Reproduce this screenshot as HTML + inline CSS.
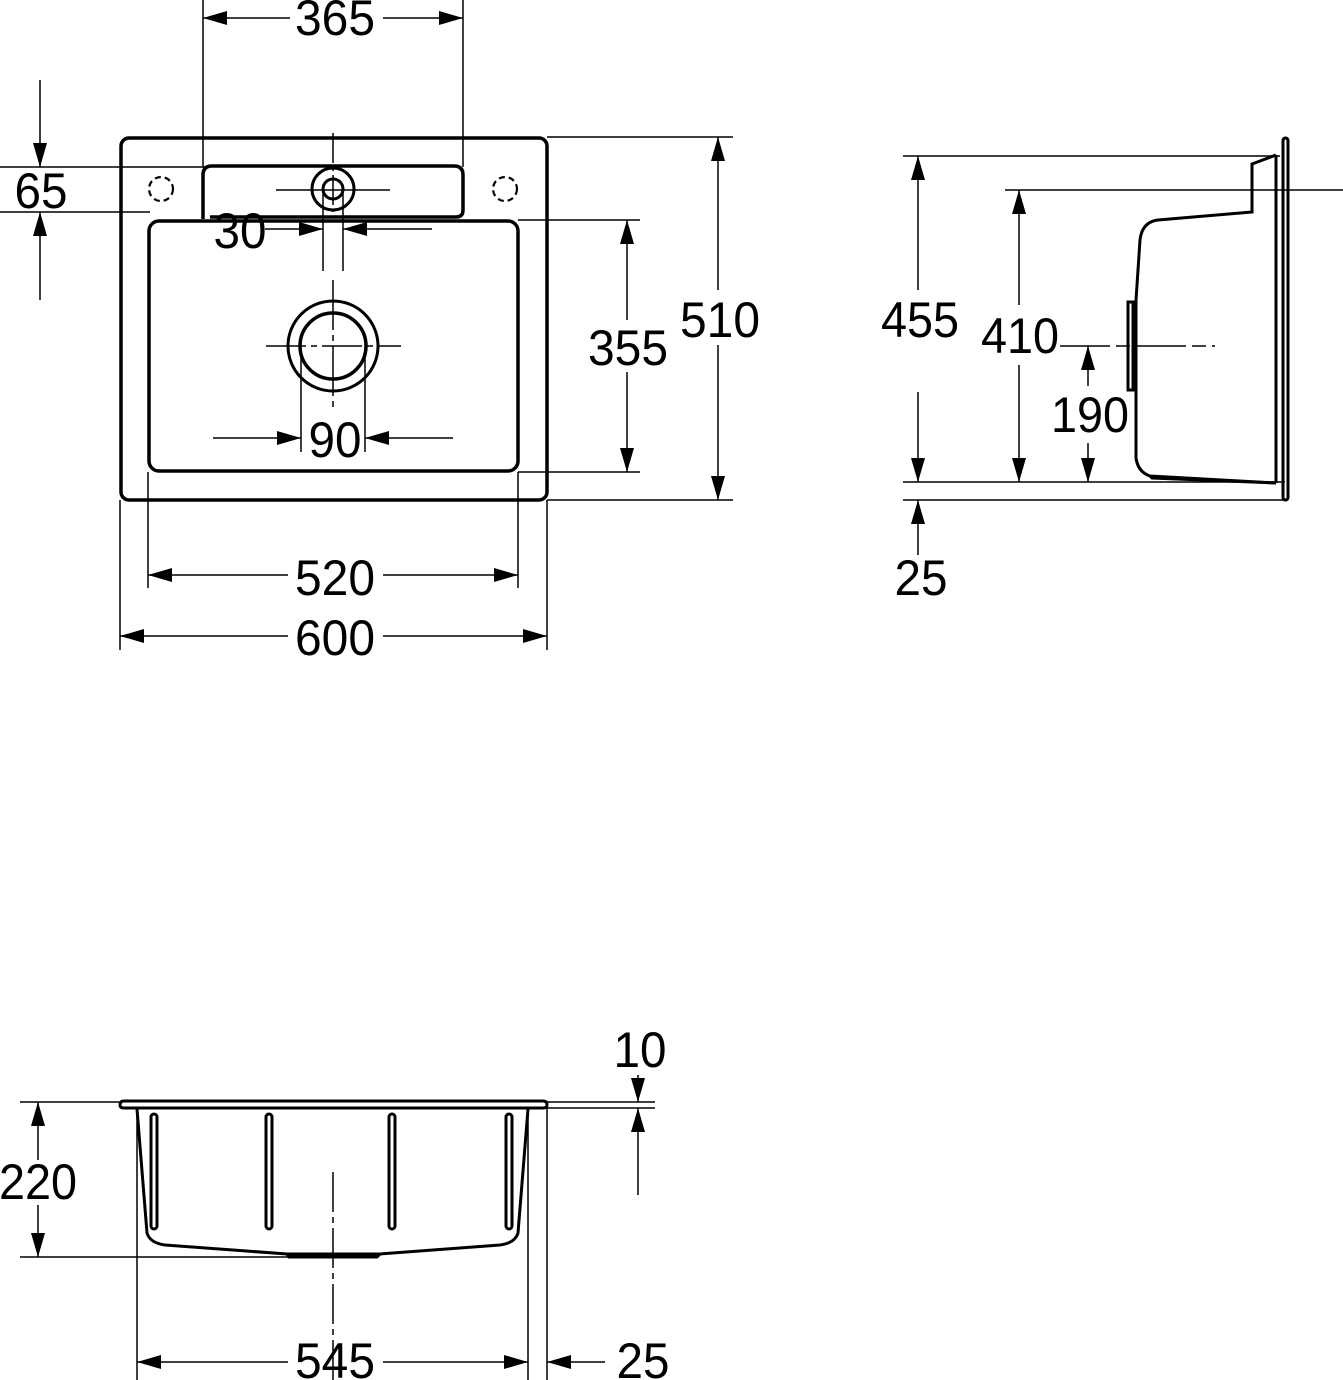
<!DOCTYPE html>
<html><head><meta charset="utf-8"><style>html,body{margin:0;padding:0;background:#fff}svg{display:block}text{font-family:"Liberation Sans","DejaVu Sans",sans-serif;font-size:50px;fill:#000}</style></head>
<body>
<svg width="1343" height="1380" viewBox="0 0 1343 1380" xmlns="http://www.w3.org/2000/svg">
<defs>
<marker id="a" viewBox="0 0 24 14" refX="24" refY="7" markerWidth="24" markerHeight="14" markerUnits="userSpaceOnUse" orient="auto-start-reverse"><path d="M0,0L24,7L0,14z" fill="#000"/></marker>
</defs>
<g stroke="#000" stroke-width="1.5" fill="none">
<line x1="203" y1="0" x2="203" y2="167"/>
<line x1="463" y1="0" x2="463" y2="167"/>
<line x1="0" y1="167" x2="205" y2="167"/>
<line x1="0" y1="212" x2="150" y2="212"/>
<line x1="323" y1="186" x2="323" y2="271"/>
<line x1="343" y1="186" x2="343" y2="271"/>
<line x1="301" y1="346" x2="301" y2="452"/>
<line x1="365" y1="346" x2="365" y2="452"/>
<line x1="518" y1="220" x2="640" y2="220"/>
<line x1="518" y1="472" x2="640" y2="472"/>
<line x1="547" y1="137" x2="733" y2="137"/>
<line x1="547" y1="500" x2="733" y2="500"/>
<line x1="148" y1="472" x2="148" y2="588"/>
<line x1="518" y1="472" x2="518" y2="588"/>
<line x1="120" y1="500" x2="120" y2="650"/>
<line x1="547" y1="500" x2="547" y2="650"/>
<line x1="290" y1="18" x2="203" y2="18" marker-end="url(#a)"/>
<line x1="383" y1="18" x2="463" y2="18" marker-end="url(#a)"/>
<line x1="40" y1="80" x2="40" y2="167" marker-end="url(#a)"/>
<line x1="40" y1="300" x2="40" y2="212" marker-end="url(#a)"/>
<line x1="265" y1="229" x2="323" y2="229" marker-end="url(#a)"/>
<line x1="432" y1="229" x2="343" y2="229" marker-end="url(#a)"/>
<line x1="213" y1="438" x2="301" y2="438" marker-end="url(#a)"/>
<line x1="453" y1="438" x2="365" y2="438" marker-end="url(#a)"/>
<line x1="627" y1="320" x2="627" y2="220" marker-end="url(#a)"/>
<line x1="627" y1="372" x2="627" y2="472" marker-end="url(#a)"/>
<line x1="718" y1="290" x2="718" y2="137" marker-end="url(#a)"/>
<line x1="718" y1="345" x2="718" y2="500" marker-end="url(#a)"/>
<line x1="288" y1="575" x2="148" y2="575" marker-end="url(#a)"/>
<line x1="383" y1="575" x2="518" y2="575" marker-end="url(#a)"/>
<line x1="288" y1="636" x2="120" y2="636" marker-end="url(#a)"/>
<line x1="383" y1="636" x2="547" y2="636" marker-end="url(#a)"/>
<line x1="333" y1="133" x2="333" y2="212" stroke-dasharray="30,4,4,4"/>
<line x1="276" y1="190" x2="390" y2="190"/>
<line x1="333" y1="280" x2="333" y2="412" stroke-dasharray="50,5,6,5"/>
<line x1="266" y1="346" x2="401" y2="346" stroke-dasharray="40,5,6,5"/>
</g>
<g stroke="#000" stroke-width="3.5" fill="none">
<rect x="121" y="138" width="426" height="362" rx="8"/>
<path d="M203,219 V175 Q203,166 212,166 H454 Q463,166 463,175 V210 Q463,217 456,217 H210"/>
<rect x="149" y="221" width="369" height="250" rx="10"/>
<circle cx="333" cy="189" r="21" stroke-width="3"/>
<circle cx="333" cy="189" r="10" stroke-width="3"/>
<circle cx="333" cy="346" r="45" stroke-width="3"/>
<circle cx="333" cy="346" r="33"/>
<circle cx="161" cy="189" r="12" stroke-width="2.2" stroke-dasharray="6,4"/>
<circle cx="505" cy="189" r="12" stroke-width="2.2" stroke-dasharray="6,4"/>
</g>
<g stroke="#000" stroke-width="1.5" fill="none">
<line x1="903" y1="156" x2="1280" y2="156"/>
<line x1="1005" y1="190" x2="1343" y2="190"/>
<line x1="903" y1="482" x2="1285" y2="482"/>
<line x1="903" y1="500" x2="1285" y2="500"/>
<line x1="1060" y1="346" x2="1215" y2="346" stroke-dasharray="50,6,14,6"/>
<line x1="918" y1="290" x2="918" y2="156" marker-end="url(#a)"/>
<line x1="918" y1="392" x2="918" y2="482" marker-end="url(#a)"/>
<line x1="918" y1="555" x2="918" y2="500" marker-end="url(#a)"/>
<line x1="1019" y1="305" x2="1019" y2="190" marker-end="url(#a)"/>
<line x1="1019" y1="365" x2="1019" y2="482" marker-end="url(#a)"/>
<line x1="1088" y1="386" x2="1088" y2="346" marker-end="url(#a)"/>
<line x1="1088" y1="443" x2="1088" y2="482" marker-end="url(#a)"/>
</g>
<g stroke="#000" stroke-width="3" fill="none">
<rect x="1283" y="138" width="5" height="362" rx="2.5"/>
<path d="M1276,155 L1252,164 V212 L1158,220 Q1142,222 1140,240 L1136,300 V458 Q1138,472 1150,476 L1276,483 M1276,155 V483"/>
<rect x="1128" y="302" width="5" height="88"/>
<path d="M1150,476 L1152,478 L1276,483"/>
</g>
<g stroke="#000" stroke-width="1.5" fill="none">
<line x1="20" y1="1102" x2="122" y2="1102"/>
<line x1="20" y1="1257" x2="290" y2="1257"/>
<line x1="547" y1="1102" x2="655" y2="1102"/>
<line x1="547" y1="1108" x2="655" y2="1108"/>
<line x1="137" y1="1108" x2="137" y2="1380"/>
<line x1="528" y1="1108" x2="528" y2="1380"/>
<line x1="547" y1="1102" x2="547" y2="1380"/>
<line x1="333" y1="1172" x2="333" y2="1380" stroke-dasharray="40,5,6,5"/>
<line x1="38" y1="1160" x2="38" y2="1102" marker-end="url(#a)"/>
<line x1="38" y1="1205" x2="38" y2="1257" marker-end="url(#a)"/>
<line x1="638" y1="1075" x2="638" y2="1102" marker-end="url(#a)"/>
<line x1="638" y1="1195" x2="638" y2="1108" marker-end="url(#a)"/>
<line x1="288" y1="1362" x2="137" y2="1362" marker-end="url(#a)"/>
<line x1="383" y1="1362" x2="528" y2="1362" marker-end="url(#a)"/>
<line x1="605" y1="1362" x2="547" y2="1362" marker-end="url(#a)"/>
</g>
<g stroke="#000" stroke-width="3" fill="none">
<path d="M124,1101 H543 Q547,1101 547,1105 Q547,1108 543,1108 H124 Q120,1108 120,1105 Q120,1101 124,1101 Z"/>
<path d="M137,1109 L147,1233 Q150,1243 165,1245 L287,1254 L380,1254 L500,1245 Q515,1243 518,1233 L528,1109"/>
<path d="M287,1254 L289,1257 H377 L380,1254"/>
<rect x="151" y="1114" width="6" height="115" rx="3"/>
<rect x="266" y="1114" width="6" height="115" rx="3"/>
<rect x="389" y="1114" width="6" height="115" rx="3"/>
<rect x="506" y="1114" width="6" height="115" rx="3"/>
</g>
<g text-anchor="middle">
<text x="335" y="35" textLength="80" lengthAdjust="spacingAndGlyphs">365</text>
<text x="41" y="208" textLength="53" lengthAdjust="spacingAndGlyphs">65</text>
<text x="240" y="248" textLength="53" lengthAdjust="spacingAndGlyphs">30</text>
<text x="335" y="457" textLength="53" lengthAdjust="spacingAndGlyphs">90</text>
<text x="628" y="365" textLength="80" lengthAdjust="spacingAndGlyphs">355</text>
<text x="720" y="337" textLength="80" lengthAdjust="spacingAndGlyphs">510</text>
<text x="335" y="595" textLength="80" lengthAdjust="spacingAndGlyphs">520</text>
<text x="335" y="655" textLength="80" lengthAdjust="spacingAndGlyphs">600</text>
<text x="920" y="337" textLength="78" lengthAdjust="spacingAndGlyphs">455</text>
<text x="1020" y="353" textLength="78" lengthAdjust="spacingAndGlyphs">410</text>
<text x="1090" y="432" textLength="78" lengthAdjust="spacingAndGlyphs">190</text>
<text x="921" y="595" textLength="53" lengthAdjust="spacingAndGlyphs">25</text>
<text x="640" y="1067" textLength="53" lengthAdjust="spacingAndGlyphs">10</text>
<text x="38" y="1199" textLength="78" lengthAdjust="spacingAndGlyphs">220</text>
<text x="335" y="1378" textLength="80" lengthAdjust="spacingAndGlyphs">545</text>
<text x="643" y="1378" textLength="53" lengthAdjust="spacingAndGlyphs">25</text>
</g>
</svg>
</body></html>
